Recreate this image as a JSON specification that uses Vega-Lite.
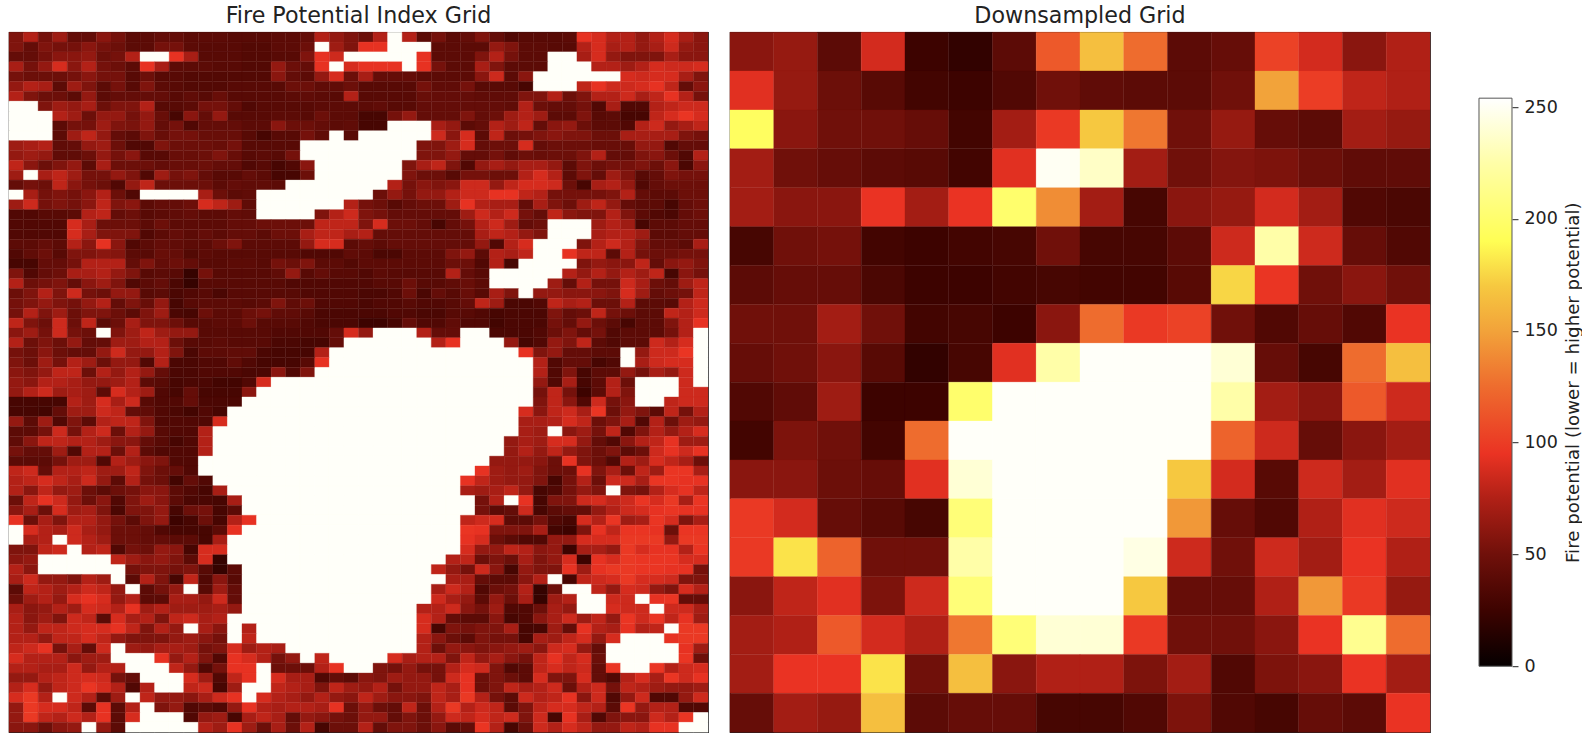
{"$schema":"https://vega.github.io/schema/vega-lite/v6.json","background":"white","padding":{"left":8,"top":4.2,"right":0,"bottom":0},"autosize":{"type":"pad"},"spacing":20,"config":{"font":"DejaVu Sans","view":{"stroke":"#222","strokeWidth":1.2},"title":{"font":"DejaVu Sans","fontSize":22.2,"fontWeight":"normal","color":"#222","offset":5}},
"hconcat":[
{"title":"Fire Potential Index Grid","width":699,"height":700,
"data":{"values":[
{"r":0,"v":[56,76,52,68,44,44,60,52,40,40,44,44,40,40,40,38,38,38,40,40,44,76,64,56,48,76,252,76,40,52,40,44,56,44,35,38,38,38,40,94,88,76,76,64,76,88,72,60]},
{"r":1,"v":[56,44,56,52,52,60,52,48,40,40,52,52,40,38,38,38,36,36,40,40,48,252,68,56,94,94,252,252,252,40,40,40,40,64,56,40,40,38,38,76,88,72,76,64,72,85,64,60]},
{"r":2,"v":[44,44,52,60,60,64,48,52,76,252,252,94,72,38,38,38,36,36,38,38,56,94,85,252,252,252,252,252,94,40,40,40,56,76,52,40,40,252,252,72,88,64,56,56,56,72,60,60]},
{"r":3,"v":[72,52,64,88,60,76,52,48,40,94,72,40,40,40,38,38,36,36,64,48,44,94,252,88,94,94,94,252,94,52,40,40,72,56,40,40,40,252,252,252,76,76,68,76,88,85,85,88]},
{"r":4,"v":[52,48,48,48,52,60,52,52,38,48,38,38,36,36,36,36,36,36,60,44,40,64,88,48,72,44,44,44,40,40,40,40,60,85,40,60,252,252,252,252,252,252,88,85,88,88,72,56]},
{"r":5,"v":[64,76,72,40,68,56,40,52,38,56,40,38,36,36,36,38,38,38,38,48,48,42,42,48,38,38,38,38,52,42,42,52,38,38,38,30,252,252,252,80,94,85,85,88,94,80,44,60]},
{"r":6,"v":[76,56,48,48,40,64,40,44,44,44,44,38,42,38,46,38,38,38,38,40,42,40,38,76,38,38,38,38,46,44,44,44,42,42,42,56,56,76,48,56,76,76,85,72,80,94,76,52]},
{"r":7,"v":[252,252,56,68,64,72,48,56,56,76,38,38,40,52,52,44,35,38,38,38,38,40,40,40,40,42,38,38,44,44,44,44,44,44,42,76,48,44,44,52,35,72,35,35,76,80,85,85]},
{"r":8,"v":[252,252,252,76,68,48,64,64,52,64,46,30,60,44,64,38,38,38,40,40,38,48,40,40,30,30,52,64,44,44,44,56,44,48,68,76,68,40,40,56,38,40,30,30,80,88,96,88]},
{"r":9,"v":[252,252,252,40,52,52,68,56,54,64,44,52,35,44,44,44,40,40,60,48,48,44,40,42,30,30,252,252,252,72,64,40,44,76,68,80,44,60,64,48,40,40,35,76,85,64,72,80]},
{"r":10,"v":[252,252,252,40,68,80,64,44,40,56,46,52,52,46,46,46,38,30,38,38,52,42,252,38,252,252,252,252,252,85,60,88,40,80,48,52,56,60,56,56,48,48,72,72,72,72,56,52]},
{"r":11,"v":[68,72,76,42,44,64,68,48,35,35,56,48,48,48,46,52,38,38,38,38,252,252,252,252,252,252,252,252,56,56,68,88,44,48,48,88,44,48,48,48,46,46,46,64,64,35,44,44]},
{"r":12,"v":[64,68,64,42,42,48,64,52,60,38,38,46,46,48,56,46,38,40,38,52,252,252,252,252,252,252,252,252,56,56,64,44,44,52,42,48,46,48,48,56,76,44,44,56,60,48,35,76]},
{"r":13,"v":[80,60,48,56,64,40,72,48,48,48,44,46,46,48,44,44,35,38,30,35,60,252,252,252,252,252,252,56,72,80,56,35,64,72,64,72,72,64,40,56,48,52,52,56,48,60,32,60]},
{"r":14,"v":[68,252,72,80,68,52,52,64,56,35,68,52,56,44,38,38,44,40,30,30,48,252,252,252,252,252,252,56,48,48,38,52,52,48,48,76,88,76,40,56,44,68,56,38,44,56,52,52]},
{"r":15,"v":[44,52,48,80,60,52,48,35,64,80,48,48,48,48,40,44,42,42,40,252,252,252,252,252,252,252,76,52,60,56,60,85,85,64,80,88,88,85,48,30,72,76,64,35,44,48,48,48]},
{"r":16,"v":[252,72,52,56,52,60,76,48,35,252,252,252,252,72,48,40,42,252,252,252,252,252,252,252,252,48,64,52,64,64,76,85,85,94,94,80,76,52,52,52,52,56,76,44,40,40,48,48]},
{"r":17,"v":[68,85,52,56,52,60,80,56,60,40,44,44,48,88,80,68,42,252,252,252,252,252,252,76,52,48,38,44,48,48,68,94,76,72,72,44,72,56,48,68,80,64,44,40,40,30,44,48]},
{"r":18,"v":[35,35,38,38,40,76,80,44,48,38,40,42,44,40,40,44,42,252,252,252,252,56,76,85,56,52,44,44,44,44,44,68,85,76,85,52,44,80,60,56,56,76,56,40,35,32,44,48]},
{"r":19,"v":[35,35,35,35,88,72,48,48,48,40,48,40,40,40,40,44,44,48,48,48,48,80,80,80,56,88,48,48,44,30,44,52,76,85,68,44,48,252,252,252,68,76,68,30,40,40,44,44]},
{"r":20,"v":[35,35,35,35,88,72,56,56,56,35,40,44,40,44,40,44,44,40,48,48,72,80,80,72,76,44,44,44,44,44,44,44,72,80,76,64,56,252,252,252,72,76,76,68,40,40,44,44]},
{"r":21,"v":[40,40,44,40,76,60,94,60,35,40,44,42,40,40,48,56,40,40,40,40,64,88,88,40,44,40,44,44,44,44,44,44,64,35,76,88,252,252,252,56,76,85,76,56,44,44,40,72]},
{"r":22,"v":[35,42,48,38,56,56,60,58,40,38,46,44,36,40,38,38,38,38,38,38,35,35,35,42,40,32,32,40,40,40,56,64,40,76,72,80,252,252,94,80,80,40,76,52,48,48,52,52]},
{"r":23,"v":[30,30,44,44,52,76,76,76,44,56,44,48,44,38,38,40,40,38,52,48,56,40,40,36,40,40,40,40,40,40,48,48,35,76,30,252,252,252,252,56,64,60,60,80,44,60,64,56]},
{"r":24,"v":[56,35,44,48,72,72,76,64,56,38,40,38,22,52,38,38,38,38,42,64,38,44,38,38,35,40,38,38,38,38,76,44,38,252,252,252,252,252,76,64,76,64,76,68,80,30,60,52]},
{"r":25,"v":[76,48,52,56,44,60,68,56,35,40,44,32,22,38,38,38,38,38,38,35,35,35,35,35,35,38,38,48,38,38,42,46,40,252,252,252,252,68,44,76,52,52,85,72,48,44,68,80]},
{"r":26,"v":[48,56,76,56,85,52,48,64,64,38,40,32,35,38,32,38,38,38,38,38,35,35,35,35,32,32,35,48,32,44,38,46,38,72,56,252,64,64,60,60,60,56,88,68,44,48,52,80]},
{"r":27,"v":[52,56,64,56,52,64,76,44,56,46,64,30,38,40,40,40,38,40,56,42,48,35,35,35,32,35,35,38,35,35,38,44,80,68,32,32,35,80,72,76,48,48,76,40,40,38,76,85]},
{"r":28,"v":[52,76,56,68,48,56,56,48,40,56,68,32,30,48,40,40,48,52,42,42,38,32,32,32,32,32,35,35,32,32,38,38,35,30,32,32,32,56,44,48,80,52,48,40,40,80,76,85]},
{"r":29,"v":[80,56,48,85,48,80,40,48,72,56,56,48,38,38,40,40,48,38,38,38,35,32,32,32,25,25,30,44,35,35,42,35,35,28,32,32,32,52,44,64,48,40,30,40,40,56,76,94]},
{"r":30,"v":[60,68,52,85,52,48,252,56,68,80,68,64,64,38,38,38,38,38,35,35,35,35,44,88,64,252,252,252,76,44,44,252,252,32,32,32,35,48,56,44,52,35,40,40,40,52,76,252]},
{"r":31,"v":[76,48,56,48,64,44,44,68,68,76,76,48,38,38,40,38,38,38,32,32,30,30,44,252,252,252,252,252,252,76,94,252,252,252,64,30,35,64,56,80,40,35,40,40,85,76,88,252]},
{"r":32,"v":[52,48,60,48,44,44,64,85,64,64,76,56,32,40,40,42,42,32,30,30,30,76,252,252,252,252,252,252,252,252,252,252,252,252,252,94,56,64,44,44,40,40,252,64,85,85,96,252]},
{"r":33,"v":[56,48,68,52,76,68,48,64,64,35,76,32,32,35,35,42,35,30,30,30,38,94,252,252,252,252,252,252,252,252,252,252,252,252,252,252,76,35,44,44,30,35,252,72,85,88,88,252]},
{"r":34,"v":[60,56,64,80,80,48,76,64,76,64,44,32,32,35,35,35,32,32,60,35,56,252,252,252,252,252,252,252,252,252,252,252,252,252,252,252,76,35,56,30,40,40,64,52,72,64,85,252]},
{"r":35,"v":[64,60,76,76,72,64,64,68,76,40,38,30,32,32,28,28,35,88,252,252,252,252,252,252,252,252,252,252,252,252,252,252,252,252,252,252,64,35,72,30,40,76,48,252,252,252,85,252]},
{"r":36,"v":[64,76,85,68,72,68,40,88,76,68,35,30,44,30,30,30,60,252,252,252,252,252,252,252,252,252,252,252,252,252,252,252,252,252,252,252,52,80,52,25,40,76,56,252,252,252,85,85]},
{"r":37,"v":[30,30,30,30,76,68,88,72,85,38,35,35,44,32,32,32,252,252,252,252,252,252,252,252,252,252,252,252,252,252,252,252,252,252,252,252,56,80,60,35,85,52,60,252,252,80,85,85]},
{"r":38,"v":[30,30,28,44,68,68,85,80,44,42,35,32,28,35,30,252,252,252,252,252,252,252,252,252,252,252,252,252,252,252,252,252,252,252,252,88,60,80,85,72,96,48,64,56,40,80,52,76]},
{"r":39,"v":[64,40,68,35,56,40,76,80,80,56,35,35,35,35,88,252,252,252,252,252,252,252,252,252,252,252,252,252,252,252,252,252,252,252,252,72,72,76,88,80,48,56,72,35,76,48,68,64]},
{"r":40,"v":[40,40,52,85,52,76,85,48,76,64,38,35,35,76,252,252,252,252,252,252,252,252,252,252,252,252,252,252,252,252,252,252,252,252,252,72,68,252,60,68,52,80,35,56,76,64,76,88]},
{"r":41,"v":[42,60,80,80,76,76,68,60,60,44,38,30,35,76,252,252,252,252,252,252,252,252,252,252,252,252,252,252,252,252,252,252,252,252,64,72,68,88,88,64,44,35,60,76,80,94,68,68]},
{"r":42,"v":[52,44,44,68,35,76,76,48,76,40,35,35,35,76,252,252,252,252,252,252,252,252,252,252,252,252,252,252,252,252,252,252,252,252,64,76,64,80,64,56,48,56,40,48,85,94,85,94]},
{"r":43,"v":[40,40,40,52,68,68,35,76,68,60,56,35,35,252,252,252,252,252,252,252,252,252,252,252,252,252,252,252,252,252,252,252,252,64,64,64,60,48,94,56,48,35,76,68,88,80,72,48]},
{"r":44,"v":[80,85,44,76,76,80,68,68,80,56,48,44,35,252,252,252,252,252,252,252,252,252,252,252,252,252,252,252,252,252,252,252,94,68,64,68,56,48,48,94,56,72,48,80,68,96,96,72]},
{"r":45,"v":[76,80,88,80,72,85,64,40,76,52,48,28,44,35,252,252,252,252,252,252,252,252,252,252,252,252,252,252,252,252,252,94,80,68,64,64,56,30,52,76,48,85,85,72,96,96,94,94]},
{"r":46,"v":[76,60,80,64,68,48,40,48,52,60,60,40,35,30,72,252,252,252,252,252,252,252,252,252,252,252,252,252,252,252,252,72,68,72,80,64,30,35,52,64,56,252,56,52,76,88,94,80]},
{"r":47,"v":[48,80,94,85,64,48,60,35,56,68,60,40,32,32,30,72,252,252,252,252,252,252,252,252,252,252,252,252,252,252,252,252,52,76,252,94,30,56,56,85,88,80,85,96,88,98,72,96]},
{"r":48,"v":[60,72,48,88,68,72,56,32,56,56,64,30,48,52,30,40,252,252,252,252,252,252,252,252,252,252,252,252,252,252,252,252,52,40,44,85,30,40,44,44,64,76,85,88,94,96,94,94]},
{"r":49,"v":[94,48,72,56,76,76,64,52,40,56,64,25,30,48,30,76,94,252,252,252,252,252,252,252,252,252,252,252,252,252,252,80,85,88,40,40,52,35,30,88,76,96,68,72,96,88,56,72]},
{"r":50,"v":[252,88,76,72,85,72,64,48,48,44,35,30,30,30,40,94,252,252,252,252,252,252,252,252,252,252,252,252,252,252,252,96,94,56,56,56,72,28,25,56,94,80,96,96,94,48,96,96]},
{"r":51,"v":[252,72,76,252,85,76,68,48,48,44,44,40,40,30,72,252,252,252,252,252,252,252,252,252,252,252,252,252,252,252,252,94,88,48,40,35,35,64,64,88,88,88,98,98,98,64,98,98]},
{"r":52,"v":[56,56,80,85,252,76,80,35,52,48,64,60,30,88,88,252,252,252,252,252,252,252,252,252,252,252,252,252,252,252,252,88,64,64,80,76,60,64,25,72,72,64,98,88,94,94,76,96]},
{"r":53,"v":[60,64,252,252,252,252,252,80,68,60,64,56,40,88,22,252,252,252,252,252,252,252,252,252,252,252,252,252,252,252,76,80,48,56,48,72,56,64,88,25,94,88,98,96,96,96,88,88]},
{"r":54,"v":[76,60,252,252,252,252,252,252,52,56,56,52,56,38,22,40,252,252,252,252,252,252,252,252,252,252,252,252,252,80,64,52,85,60,30,64,56,56,94,68,94,98,98,96,96,94,94,52]},
{"r":55,"v":[72,85,64,64,56,76,68,252,40,76,56,30,80,35,60,38,252,252,252,252,252,252,252,252,252,252,252,252,252,252,72,72,44,40,40,60,76,252,30,80,85,88,98,88,88,85,56,56]},
{"r":56,"v":[40,80,76,68,76,85,80,64,252,40,52,64,252,38,68,44,252,252,252,252,252,252,252,252,252,252,252,252,252,72,85,76,35,48,52,76,22,48,252,252,80,64,88,85,64,56,88,76]},
{"r":57,"v":[48,68,76,64,88,94,88,64,76,40,40,72,72,64,85,44,252,252,252,252,252,252,252,252,252,252,252,252,252,85,72,64,40,64,48,72,22,68,76,252,252,85,85,252,94,96,44,44]},
{"r":58,"v":[72,60,64,76,68,88,85,76,94,68,76,68,68,68,72,64,252,252,252,252,252,252,252,252,252,252,252,252,76,76,85,60,52,68,35,35,48,72,64,252,252,88,85,85,252,85,85,72]},
{"r":59,"v":[76,60,68,56,85,80,40,88,72,76,56,80,85,72,76,252,252,252,252,252,252,252,252,252,252,252,252,252,88,76,44,40,40,60,30,35,60,72,85,68,80,64,96,85,96,80,94,68]},
{"r":60,"v":[76,64,80,80,85,88,88,94,80,56,76,64,252,72,60,252,76,252,252,252,252,252,252,252,252,252,252,252,88,30,56,52,56,56,72,30,30,68,44,94,76,72,94,76,80,252,98,98]},
{"r":61,"v":[76,76,64,80,80,88,80,64,56,56,56,64,68,60,52,252,80,252,252,252,252,252,252,252,252,252,252,252,76,60,48,40,56,52,52,30,72,68,80,88,64,88,252,252,252,94,98,98]},
{"r":62,"v":[80,85,94,52,72,44,85,252,68,64,72,72,68,52,56,88,68,76,72,252,252,252,252,252,252,252,252,252,76,48,64,60,56,60,64,68,60,85,88,64,44,252,252,252,252,252,94,68]},
{"r":63,"v":[88,76,76,76,60,68,68,252,252,252,94,64,76,56,35,94,88,76,52,64,252,80,252,252,252,252,88,72,76,76,56,80,64,72,60,52,80,94,80,88,48,252,252,252,252,252,96,48]},
{"r":64,"v":[76,76,72,72,85,64,76,76,252,252,252,80,64,35,52,94,94,252,48,48,48,76,94,252,252,56,52,64,52,52,76,88,85,56,35,40,80,88,80,85,44,96,252,252,96,76,85,88]},
{"r":65,"v":[64,64,76,80,85,88,85,52,44,252,252,252,88,68,35,80,94,252,88,72,72,35,44,40,60,56,68,64,64,52,85,94,48,56,48,40,88,56,56,88,44,35,76,88,72,96,85,94]},
{"r":66,"v":[76,88,64,80,85,96,88,76,35,76,252,252,80,85,30,68,252,252,80,76,72,56,80,68,64,76,52,64,64,80,72,94,48,56,80,72,76,85,48,76,85,52,80,76,68,64,64,68]},
{"r":67,"v":[88,98,76,252,85,76,40,68,252,80,64,64,60,72,85,94,252,88,76,72,64,76,64,60,80,68,60,60,56,80,72,98,76,52,40,85,76,80,94,60,85,35,64,85,35,35,64,85]},
{"r":68,"v":[64,98,88,88,80,40,94,40,76,252,56,64,35,40,35,64,94,76,72,76,76,72,94,48,64,48,44,80,48,76,98,76,85,80,40,56,80,88,88,80,76,40,96,64,76,76,35,35]},
{"r":69,"v":[64,98,80,76,85,76,94,40,88,252,252,252,35,64,68,30,72,80,72,44,64,60,52,48,64,64,44,56,48,64,85,80,88,80,85,56,85,30,94,72,35,56,60,60,85,76,96,252]},
{"r":70,"v":[60,60,48,60,64,252,64,40,252,252,252,252,252,76,68,94,68,48,72,48,76,30,48,48,76,44,56,56,48,60,40,44,96,76,30,48,85,76,88,80,64,64,80,76,94,94,252,252]}
]},
"transform":[{"flatten":["v"]},{"window":[{"op":"row_number","as":"c"}],"groupby":["r"]}],
"mark":{"type":"rect","strokeWidth":0.35},
"encoding":{"x":{"field":"c","type":"ordinal","axis":null,"scale":{"paddingInner":0,"paddingOuter":0}},"y":{"field":"r","type":"ordinal","axis":null,"scale":{"paddingInner":0,"paddingOuter":0}},
"color":{"field":"v","type":"quantitative","legend":null,"scale":{"interpolate":"rgb","domain":[0,25,50,75,95,125,150,170,190,225,254],"range":["#050000","#3d0300","#70100a","#b02016","#ea3323","#ee6c2e","#f2a33a","#f6c840","#fffe54","#fffea8","#ffffff"]}},
"stroke":{"field":"v","type":"quantitative","legend":null,"scale":{"interpolate":"rgb","domain":[0,25,50,75,95,125,150,170,190,225,254],"range":["#050000","#3d0300","#70100a","#b02016","#ea3323","#ee6c2e","#f2a33a","#f6c840","#fffe54","#fffea8","#ffffff"]}}}},
{"title":"Downsampled Grid","width":700,"height":700,
"data":{"values":[
{"r":0,"v":[60,65,40,87,25,20,40,115,165,125,40,45,103,87,60,75]},
{"r":1,"v":[92,65,48,38,28,25,35,50,42,40,40,50,150,100,80,75]},
{"r":2,"v":[195,60,50,50,45,28,70,98,170,130,50,65,45,40,70,65]},
{"r":3,"v":[70,50,45,40,38,28,92,250,235,70,50,58,55,48,42,42]},
{"r":4,"v":[70,60,60,95,70,95,200,140,70,30,60,65,87,70,35,32]},
{"r":5,"v":[30,50,52,28,25,28,30,50,30,30,40,85,225,85,45,35]},
{"r":6,"v":[40,45,45,32,25,25,28,30,28,28,38,175,96,50,60,50]},
{"r":7,"v":[50,50,70,50,28,30,25,60,125,98,103,50,35,45,35,95]},
{"r":8,"v":[45,50,60,38,20,30,92,225,252,252,252,240,45,30,125,165]},
{"r":9,"v":[35,42,68,25,25,200,252,252,252,252,252,225,70,60,115,85]},
{"r":10,"v":[28,55,50,28,125,252,252,252,252,252,252,120,85,45,60,70]},
{"r":11,"v":[60,60,48,45,92,240,252,252,252,252,170,87,38,85,70,92]},
{"r":12,"v":[98,87,45,38,30,205,252,252,252,252,145,45,35,75,92,85]},
{"r":13,"v":[98,180,120,50,50,225,252,252,252,245,85,50,85,70,95,75]},
{"r":14,"v":[60,80,92,55,85,205,252,252,252,170,45,45,75,145,98,65]},
{"r":15,"v":[70,75,115,87,75,130,205,240,240,98,50,50,60,95,215,125]},
{"r":16,"v":[70,95,95,180,50,165,60,75,75,55,70,35,55,60,95,70]},
{"r":17,"v":[45,70,65,165,40,45,45,30,30,35,55,35,30,45,40,95]}
]},
"transform":[{"flatten":["v"]},{"window":[{"op":"row_number","as":"c"}],"groupby":["r"]}],
"mark":{"type":"rect","strokeWidth":0.35},
"encoding":{"x":{"field":"c","type":"ordinal","axis":null,"scale":{"paddingInner":0,"paddingOuter":0}},"y":{"field":"r","type":"ordinal","axis":null,"scale":{"paddingInner":0,"paddingOuter":0}},
"color":{"field":"v","type":"quantitative","legend":null,"scale":{"interpolate":"rgb","domain":[0,25,50,75,95,125,150,170,190,225,254],"range":["#050000","#3d0300","#70100a","#b02016","#ea3323","#ee6c2e","#f2a33a","#f6c840","#fffe54","#fffea8","#ffffff"]}},
"stroke":{"field":"v","type":"quantitative","legend":null,"scale":{"interpolate":"rgb","domain":[0,25,50,75,95,125,150,170,190,225,254],"range":["#050000","#3d0300","#70100a","#b02016","#ea3323","#ee6c2e","#f2a33a","#f6c840","#fffe54","#fffea8","#ffffff"]}}}},
{"width":61,"height":700,"view":{"stroke":null},
"data":{"values":[{"lo":0,"hi":254}]},
"mark":{"type":"rect","stroke":"#555","strokeWidth":1,"fill":{"gradient":"linear","x1":0,"y1":1,"x2":0,"y2":0,"stops":[{"offset":0,"color":"#050000"},{"offset":0.098,"color":"#3d0300"},{"offset":0.197,"color":"#70100a"},{"offset":0.295,"color":"#b02016"},{"offset":0.374,"color":"#ea3323"},{"offset":0.492,"color":"#ee6c2e"},{"offset":0.591,"color":"#f2a33a"},{"offset":0.669,"color":"#f6c840"},{"offset":0.748,"color":"#fffe54"},{"offset":0.886,"color":"#fffea8"},{"offset":1,"color":"#ffffff"}]}},
"encoding":{"x":{"value":28},"x2":{"value":61},
"y":{"field":"lo","type":"quantitative","scale":{"domain":[-29.5,283.5],"nice":false,"zero":false},"axis":{"orient":"right","values":[0,50,100,150,200,250],"domain":false,"grid":false,"tickSize":6,"tickColor":"#222","labelFontSize":17.5,"labelPadding":6,"labelColor":"#222","titleFontSize":18.2,"titleFontWeight":"normal","titleColor":"#222","title":"Fire potential (lower = higher potential)","titleAngle":270,"titlePadding":25}},
"y2":{"field":"hi"}}}
]}
